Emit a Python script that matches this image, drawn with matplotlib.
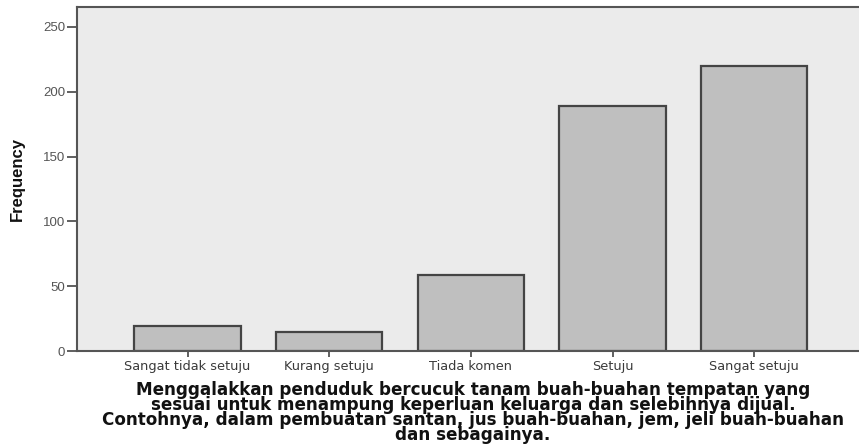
import matplotlib
matplotlib.use("Agg")
import matplotlib.pyplot as plt

categories = ["Sangat tidak setuju", "Kurang setuju", "Tiada komen", "Setuju", "Sangat setuju"]
frequency = [19, 15, 59, 189, 220]
yticks = [0, 50, 100, 150, 200, 250]
ylabel = "Frequency"
xlabel = ("Menggalakkan penduduk bercucuk tanam buah-buahan tempatan yang\n"
          "sesuai untuk menampung keperluan keluarga dan selebihnya dijual.\n"
          "Contohnya, dalam pembuatan santan, jus buah-buahan, jem, jeli buah-buahan\n"
          "dan sebagainya.")

W, H = 859, 446
fig = plt.figure(figsize=(W / 100, H / 100), dpi=100)
left, right, top, bottom = 77, 862, 7, 351
ax = fig.add_axes([left / W, 1 - bottom / H, (right - left) / W, (bottom - top) / H])
ax.set_facecolor("#ebebeb")

x = list(range(len(categories)))
ax.bar(x, frequency, width=0.75, color="#bfbfbf", edgecolor="#444444", linewidth=1.6, zorder=2)

ax.set_xlim(-0.78, 4.76)
ax.set_ylim(0, 265.4)
ax.set_yticks(yticks)
ax.set_xticks(x)
ax.set_xticklabels(categories, fontsize=9.3, family="DejaVu Sans", color="#3a3a3a")
ax.tick_params(axis="y", length=7.5, width=1.2, color="#444444", labelsize=9.5, labelcolor="#555555", pad=1)
ax.tick_params(axis="x", length=4.5, width=1.2, color="#444444", pad=2)
for lab in ax.get_yticklabels():
    lab.set_family("Liberation Sans")

for s in ["left", "top", "bottom"]:
    ax.spines[s].set_color("#555555")
    ax.spines[s].set_linewidth(1.5)
ax.spines["right"].set_visible(False)

fig.text(17 / W, 1 - 179 / H, ylabel, rotation=90, ha="center", va="center",
         fontsize=12, fontweight="bold", family=["Liberation Sans Narrow", "Liberation Sans"], color="#111111")

fig.text(473 / W, 1 - 381 / H, xlabel, ha="center", va="top", fontsize=12.1,
         fontweight="bold", family="DejaVu Sans", color="#111111", linespacing=0.78)

fig.savefig("out.png", dpi=100)
